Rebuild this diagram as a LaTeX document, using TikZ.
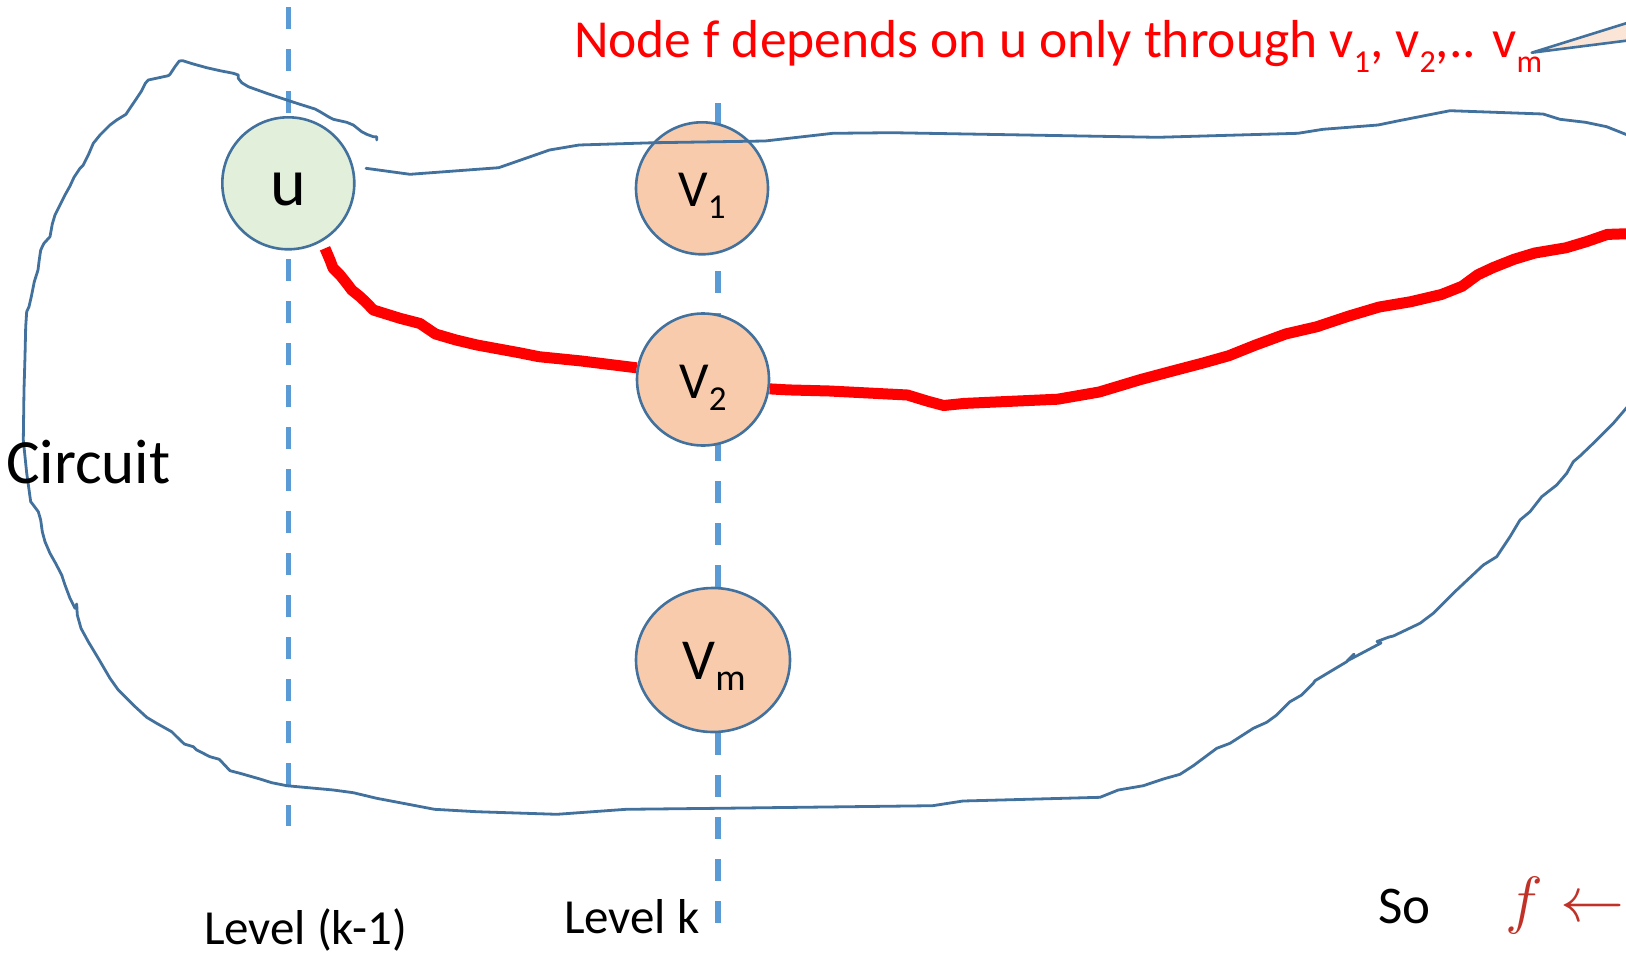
\documentclass[tikz,border=0pt]{standalone}
\usepackage{fix-cm}
\usepackage{fontspec}
\newfontfamily\calib{Carlito}
\usetikzlibrary{shapes.geometric}
\pgfdeclarelayer{back}
\pgfsetlayers{back,main}
\definecolor{outline}{HTML}{41719C}
\definecolor{levelblue}{HTML}{5B9BD5}
\definecolor{ufill}{HTML}{E2EFDA}
\definecolor{vfill}{HTML}{F8CBAD}
\definecolor{callfill}{HTML}{FBE5D6}
\definecolor{mathred}{RGB}{192,50,40}
% lowered, smaller index text: #1 drop (pt), #2 size (pt), #3 text
\newcommand\dropsub[3]{\raisebox{-#1pt}{\fontsize{#2}{#2}\selectfont #3}}
\begin{document}
\begin{tikzpicture}[x=1pt,y=-1pt,
  blob/.style={draw=outline, line width=2.8pt, line join=round, line cap=round},
  levelline/.style={draw=levelblue, line width=5.5pt, dash pattern=on 22pt off 20pt},
  gatenode/.style={circle, draw=outline, line width=2.6pt, minimum size=132pt, inner sep=0pt},
  redpath/.style={draw=red, line width=11pt, line join=round},
  lbl/.style={inner sep=0pt, outer sep=0pt, anchor=base west},
  ctr/.style={inner sep=0pt, outer sep=0pt, anchor=base},
]
\useasboundingbox (0,0) rectangle (1626,956);
\clip (0,0) rectangle (1626,956);

% gates
\node[gatenode, fill=ufill] (u) at (288.3,183.3) {};
\node[gatenode, fill=vfill] (V1) at (702,188.3) {};
\node[gatenode, fill=vfill] (V2) at (703,379.5) {};
\node[ellipse, draw=outline, line width=2.6pt, fill=vfill, minimum width=154pt,
      minimum height=144pt, inner sep=0pt] (Vm) at (713,660) {};

\begin{pgfonlayer}{back}
  % level lines
  \coordinate (levAtop) at (288.3,7);
  \coordinate (levAbot) at (288.3,826);
  \coordinate (levBtop) at (718,103);
  \coordinate (levBbot) at (718,924);
  \draw[levelline] (levAtop) -- (levAbot);
  \draw[levelline] (levBtop) -- (levBbot);

  % outline of the circuit: left side and bottom
  \draw[blob] (376.7,140) -- (376.7,136.7) -- (373.3,136.7) -- (366.7,134.3) -- (361.7,131.7)
    -- (353.3,125) -- (346.7,122.3) -- (333.3,119.3) -- (328.3,116.7) -- (320,111.7)
    -- (315,109) -- (300,104.3) -- (286.7,100) -- (266.7,93.3) -- (248.3,86.7)
    -- (241.7,82.7) -- (238.3,78.3) -- (238.3,75) -- (233.3,73.3) -- (220,70.7)
    -- (206.7,67.7) -- (193.3,64) -- (182.7,60.7) -- (179.3,61) -- (175,66.7)
    -- (170,74.3) -- (168.3,75.7) -- (148.3,80) -- (145.3,83.3) -- (141.7,90.7)
    -- (136.7,98.3) -- (128.3,110.7) -- (126,114.3) -- (116.7,120) -- (110,125)
    -- (100,135) -- (93.3,143.3) -- (88.3,155) -- (83.3,165) -- (80,168.3)
    -- (74,177.3) -- (70,186) -- (65,195) -- (60,205) -- (55,215) -- (52.3,224)
    -- (50,236.7) -- (44,243.3) -- (40.7,250) -- (39,261.7) -- (38,270)
    -- (34.3,281.7) -- (31.3,296.7) -- (29,306.7) -- (26.7,311.7) -- (25.7,326.7)
    -- (25,356.7) -- (24,390) -- (23.3,440) -- (26.7,473) -- (30.7,501.7)
    -- (33.3,505) -- (38.3,511.7) -- (40.7,520) -- (42.3,531.7) -- (45,541.7)
    -- (50,553.3) -- (56,564) -- (61.7,575) -- (65,585) -- (70,598.3) -- (75,608.3)
    -- (76.7,604) -- (77.3,615) -- (81,628.3) -- (88.3,641.7) -- (98.3,658.3)
    -- (110,678.3) -- (118.3,690) -- (133.3,705) -- (146.7,717.3) -- (156.7,723.3)
    -- (171.7,731.7) -- (176.7,736.7) -- (184.3,744) -- (193.3,746.7) -- (196.7,750)
    -- (210,756.7) -- (219.3,759.3) -- (230,770.7) -- (240,773.3) -- (260,779)
    -- (271.7,782.7) -- (286.7,785.7) -- (333.3,790) -- (353.3,792.7) -- (376.7,798.3)
    -- (400,802.7) -- (434.5,809.3) -- (476.6,811.7) -- (557,814.3) -- (626,809.3)
    -- (718,808.3) -- (932.6,805.7) -- (963,801) -- (1000.8,800) -- (1100,797.3)
    -- (1118.3,790) -- (1143.3,785.7) -- (1163.3,779) -- (1180,774.3) -- (1193.3,765.7)
    -- (1216.7,748.3) -- (1230,743.3) -- (1253.3,728.3) -- (1266.7,722.3) -- (1276.7,715)
    -- (1290,701.7) -- (1301.7,695) -- (1313.3,683.3) -- (1315,680.7) -- (1346.7,661.7)
    -- (1354,654) -- (1347,661) -- (1381,643) -- (1377,641.5) -- (1389,637)
    -- (1393.3,636) -- (1420,623.3) -- (1433.3,613.3) -- (1456.7,590) -- (1483.3,565)
    -- (1496.7,556.7) -- (1510,536.7) -- (1520,520) -- (1530,511.7) -- (1541.7,496.7)
    -- (1556.7,485) -- (1566.7,473.3) -- (1573.3,461.7) -- (1580,456) -- (1596.7,440)
    -- (1613.3,423.3) -- (1640,392);

  % the dependency path through V2
  \coordinate (redstart) at (325,248.3);
  \coordinate (redend) at (1640,233.3);
  \draw[redpath] (redstart) -- (330,260) -- (333,268) -- (340,275) -- (346.7,283.3)
    -- (351.7,290) -- (360,296.7) -- (366.7,303) -- (373.3,310) -- (400,318.3)
    -- (420,323.5) -- (435.5,334) -- (456,340) -- (477,345) -- (518.5,352.6)
    -- (539,356.7) -- (580.7,360.9) -- (622,366) -- (V2.170);
  \draw[redpath] (V2.-8) -- (788,389.9) -- (829.6,391) -- (907.4,395) -- (928,401.3)
    -- (943.7,405.5) -- (964.4,403.4) -- (1057.7,399.2) -- (1099.2,392)
    -- (1140.7,379.5) -- (1171.8,371.2) -- (1203,363) -- (1228.8,355.7)
    -- (1254.8,345.3) -- (1285.9,333.9) -- (1317,326.7) -- (1348,316.3)
    -- (1379.2,307) -- (1410.3,301.8) -- (1441.4,294.5) -- (1462.2,286.2)
    -- (1477.7,274.8) -- (1493.3,267.5) -- (1514,259.3) -- (1534.8,253)
    -- (1565.9,247.8) -- (1586.6,241.6) -- (1607.4,234.4) -- (redend);
\end{pgfonlayer}

% outline of the circuit: top edge, passing over V1
\draw[blob] (366,168.3) -- (410,174.3) -- (498.7,167.7) -- (549.5,150) -- (579,145)
  -- (655,142.7) -- (765,141) -- (832.8,133.3) -- (892,132.7) -- (1158,137.3)
  -- (1298,133.3) -- (1323,129.3) -- (1378,125) -- (1399,120.7) -- (1450,110.7)
  -- (1543,114) -- (1560,119.3) -- (1585.5,122.3) -- (1606.6,126.7) -- (1640,140);

% callout pointer
\coordinate (calltip) at (1531.7,52.7);
\filldraw[fill=callfill, draw=outline, line width=2.6pt, line join=round]
  (calltip) -- (1660,12.7) -- (1660,36.4) -- cycle;

% labels
\node[ctr] (ulbl) at (288.3,205) {\calib\fontsize{68}{68}\selectfont u};
\node[ctr] (v1lbl) at (702,206.7) {\calib\fontsize{52}{52}\selectfont V\dropsub{12}{35}{1}};
\node[ctr] (v2lbl) at (703,398.3) {\calib\fontsize{52}{52}\selectfont V\dropsub{12}{35}{2}};
\node[ctr] (vmlbl) at (714,679) {\calib\fontsize{58}{58}\selectfont V\dropsub{11}{38}{m}};
\node[lbl] (circuitlbl) at (6,483) {\calib\fontsize{63}{63}\selectfont Circuit};
\node[lbl, text=red] (claim) at (574,57) {\calib\fontsize{53.5}{53.5}\selectfont
  Node f depends on u only through v\dropsub{15}{32}{1}, v\dropsub{15}{32}{2},..
  v\dropsub{15}{32}{m}};
\node[lbl] (levA) at (204,944) {\calib\fontsize{49}{49}\selectfont Level (k-1)};
\node[lbl] (levB) at (564,933) {\calib\fontsize{49}{49}\selectfont Level k};
\node[lbl] (solbl) at (1378,923) {\calib\fontsize{53}{53}\selectfont So};
\node[lbl, text=mathred] (flbl) at (1505,921) {\fontsize{64}{64}\selectfont $f\leftarrow$};
\end{tikzpicture}
\end{document}
